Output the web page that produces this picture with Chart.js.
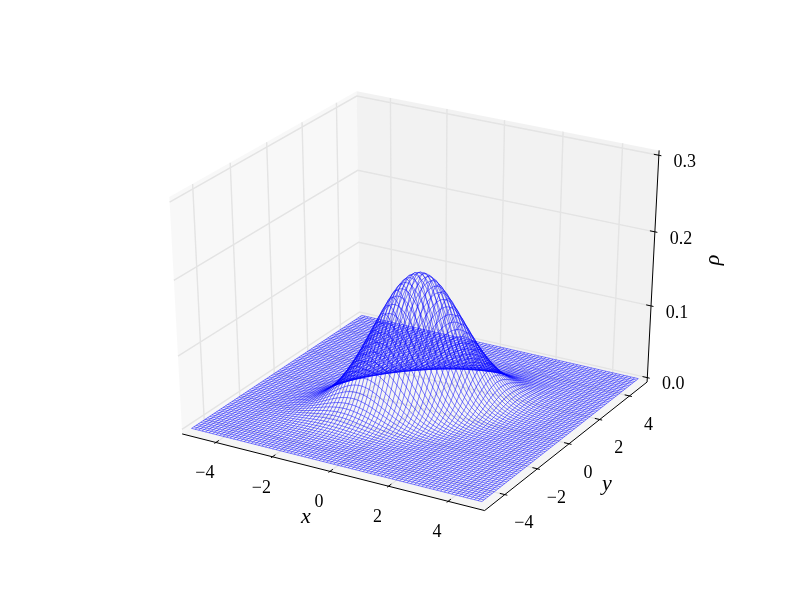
<!DOCTYPE html>
<html>
<head>
<meta charset="utf-8">
<script src="https://cdn.jsdelivr.net/npm/chart.js@4/dist/chart.umd.min.js"></script>
<style>body{margin:0;background:#fff}canvas{display:block}</style>
</head>
<body>
<canvas id="c" width="800" height="600"></canvas>
<script>
const xTicks = [-4, -2, 0, 2, 4];
const yTicks = [-4, -2, 0, 2, 4];
const zTicks = [0, 0.1, 0.2, 0.3];
const xLim = [-5, 5], yLim = [-5, 5], zLim = [0, 0.3];

const gridValues = [-5, -4.875, -4.75, -4.625, -4.5, -4.375, -4.25, -4.125, -4, -3.875, -3.75, -3.625, -3.5, -3.375, -3.25, -3.125, -3, -2.875, -2.75, -2.625,
  -2.5, -2.375, -2.25, -2.125, -2, -1.875, -1.75, -1.625, -1.5, -1.375, -1.25, -1.125, -1, -0.875, -0.75, -0.625, -0.5, -0.375, -0.25, -0.125, 0,
  0.125, 0.25, 0.375, 0.5, 0.625, 0.75, 0.875, 1, 1.125, 1.25, 1.375, 1.5, 1.625, 1.75, 1.875, 2, 2.125, 2.25, 2.375,
  2.5, 2.625, 2.75, 2.875, 3, 3.125, 3.25, 3.375, 3.5, 3.625, 3.75, 3.875, 4, 4.125, 4.25, 4.375, 4.5, 4.625, 4.75, 4.875, 5];

// the hump is an ellipse along x = y: grid nodes on the same ring (i*i - i*j + j*j, in steps from the peak) share a height
// pairs of [ring, rho in units of 0.0001]
const ringRho = [[0,1780],[1,1766],[3,1738],[4,1724],[7,1683],[9,1656],[12,1617],[13,1604],[16,1566],[19,1529],[21,1504],[25,1457],[27,1434],[28,1422],[31,1388],[36,1334],[37,1323],[39,1302],[43,1261],[48,1212],[49,1202],
  [52,1173],[57,1127],[61,1092],[63,1074],[64,1066],[67,1041],[73,992],[75,976],[76,968],[79,945],[81,930],[84,908],[91,858],[93,845],[97,818],[100,799],[103,780],[108,749],[109,743],[111,731],[112,726],
  [117,697],[121,675],[124,659],[127,643],[129,633],[133,613],[139,584],[144,561],[147,548],[148,544],[151,531],[156,510],[157,506],[163,482],[169,460],[171,452],[172,449],[175,438],[181,417],[183,411],
  [189,391],[192,382],[193,379],[196,370],[199,361],[201,356],[208,336],[211,328],[217,313],[219,308],[223,298],[225,293],[228,286],[229,284],[237,266],[241,258],[243,254],[244,252],[247,246],[252,236],
  [256,229],[259,223],[268,208],[271,203],[273,200],[277,193],[279,190],[283,184],[289,176],[291,173],[292,171],[300,161],[301,160],[304,156],[307,152],[309,150],[313,145],[316,142],[324,133],[325,132],
  [327,130],[331,125],[333,124],[336,121],[337,120],[343,114],[349,109],[351,107],[361,99],[363,97],[364,96],[367,94],[372,90],[373,90],[379,85],[381,84],[387,80],[388,79],[397,74],[399,73],[400,72],
  [403,70],[409,67],[412,66],[417,63],[421,61],[427,58],[432,56],[433,55],[436,54],[439,53],[441,52],[444,51],[448,49],[453,47],[457,46],[463,44],[468,42],[469,42],[471,41],[475,40],[481,38],[484,37],
  [487,36],[489,35],[496,33],[499,33],[507,31],[508,30],[511,30],[513,29],[516,28],[523,27],[525,26],[529,26],[532,25],[541,23],[543,23],[547,22],[549,22],[553,21],[556,21],[559,20],[567,19],[571,18],
  [576,18],[577,17],[579,17],[588,16],[589,16],[592,15],[597,15],[601,14],[603,14],[604,14],[607,14],[613,13],[619,12],[624,12],[625,12],[628,12],[631,11],[633,11],[637,11],[643,10],[651,10],[652,10],
  [657,9],[661,9],[669,8],[673,8],[675,8],[676,8],[679,8],[684,7],[687,7],[688,7],[691,7],[700,7],[703,6],[709,6],[711,6],[721,6],[723,5],[724,5],[727,5],[729,5],[732,5],[733,5],[739,5],[741,5],
  [751,4],[756,4],[757,4],[763,4],[768,4],[769,4],[772,4],[775,4],[777,4],[784,3],[787,3],[793,3],[796,3],[804,3]];
const peakIndex = 40;

const ringMap = new Map(ringRho);
function rhoAt(ix, iy) {
  const i = ix - peakIndex, j = iy - peakIndex;
  return (ringMap.get(i * i - i * j + j * j) || 0) / 10000;
}

// mplot3d default view: elev 30, azim -60, dist 10
const dist = 10, elev = 30 * Math.PI / 180, azim = -60 * Math.PI / 180;
const E = [0.5 + Math.cos(azim) * Math.cos(elev) * dist, 0.5 + Math.sin(azim) * Math.cos(elev) * dist, 0.5 + Math.sin(elev) * dist];
const nv = [Math.cos(azim) * Math.cos(elev), Math.sin(azim) * Math.cos(elev), Math.sin(elev)];
const cross = (a, b) => [a[1]*b[2]-a[2]*b[1], a[2]*b[0]-a[0]*b[2], a[0]*b[1]-a[1]*b[0]];
const dot = (a, b) => a[0]*b[0]+a[1]*b[1]+a[2]*b[2];
let uv = cross([0, 0, 1], nv);
const ul = Math.sqrt(dot(uv, uv));
uv = uv.map(v => v / ul);
const vv = cross(nv, uv);
function proj(x, y, z) {
  const p = [(x - xLim[0]) / (xLim[1] - xLim[0]) - E[0], (y - yLim[0]) / (yLim[1] - yLim[0]) - E[1], (z - zLim[0]) / (zLim[1] - zLim[0]) - E[2]];
  const w = -dot(nv, p);
  return { x: dot(uv, p) / w, y: dot(vv, p) / w };
}
const dx = 10 / 48, dy = 10 / 48, dz = 0.3 / 48;
const x0 = -5 - dx, x1 = 5 + dx, y0 = -5 - dy, y1 = 5 + dy, z0 = 0 - dz, z1 = 0.3 + dz;
const tx = 10 / 12, ty = 10 / 12;

function line(pts, color, width, order, fill) {
  return { data: pts.map(p => proj(p[0], p[1], p[2])), showLine: true, pointRadius: 0, borderColor: color, borderWidth: width, backgroundColor: fill || 'transparent', fill: fill ? 'shape' : false, order: order, tension: 0 };
}
const ds = [];
ds.push(line([[x0,y0,z0],[x0,y1,z0],[x0,y1,z1],[x0,y0,z1],[x0,y0,z0]], 'transparent', 0, 100, 'rgba(242,242,242,0.5)'));
ds.push(line([[x0,y1,z0],[x1,y1,z0],[x1,y1,z1],[x0,y1,z1],[x0,y1,z0]], 'transparent', 0, 100, 'rgba(230,230,230,0.5)'));
ds.push(line([[x0,y0,z0],[x1,y0,z0],[x1,y1,z0],[x0,y1,z0],[x0,y0,z0]], 'transparent', 0, 100, 'rgba(236,236,236,0.5)'));
const gc = '#e4e4e4';
xTicks.forEach(t => ds.push(line([[t,y0,z0],[t,y1,z0],[t,y1,z1]], gc, 1.4, 90)));
yTicks.forEach(t => ds.push(line([[x1,t,z0],[x0,t,z0],[x0,t,z1]], gc, 1.4, 90)));
zTicks.forEach(t => ds.push(line([[x0,y0,t],[x0,y1,t],[x1,y1,t]], gc, 1.4, 90)));
// wireframe
gridValues.forEach((g, i) => {
  ds.push(line(gridValues.map((h, j) => [g, h, rhoAt(i, j)]), 'rgba(0,0,255,1)', 0.5, 50));
  ds.push(line(gridValues.map((h, j) => [h, g, rhoAt(j, i)]), 'rgba(0,0,255,1)', 0.5, 50));
});
ds.push(line([[x0,y0,z0],[x1,y0,z0]], '#000', 1, 10));
ds.push(line([[x1,y0,z0],[x1,y1,z0]], '#000', 1, 10));
ds.push(line([[x1,y1,z0],[x1,y1,z1]], '#000', 1, 10));
xTicks.forEach(t => ds.push(line([[t,y0-tx*0.1,z0],[t,y0+tx*0.2,z0]], '#000', 1, 10)));
yTicks.forEach(t => ds.push(line([[x1+ty*0.1,t,z0],[x1-ty*0.2,t,z0]], '#000', 1, 10)));
zTicks.forEach(t => ds.push(line([[x1+tx*0.1,y1,t],[x1-tx*0.2,y1,t]], '#000', 1, 10)));

const labels = {
  id: 'labels',
  afterDraw(chart) {
    const c = chart.ctx, sx = chart.scales.x, sy = chart.scales.y;
    const put = (txt, px, py, font, rot) => {
      c.save(); c.translate(px, py); if (rot) c.rotate(rot);
      c.font = font; c.fillStyle = '#000'; c.textAlign = 'center'; c.textBaseline = 'middle';
      c.fillText(txt, 0, 0); c.restore();
    };
    const f = '18px "Liberation Serif"';
    const at = (x, y, z) => { const p = proj(x, y, z); return [sx.getPixelForValue(p.x), sy.getPixelForValue(p.y)]; };
    xTicks.forEach(t => { const p = at(t, y0, z0); put(String(t).replace('-', '\u2212'), p[0] - 11, p[1] + 31, f); });
    yTicks.forEach(t => { const p = at(x1, t, z0); put(String(t).replace('-', '\u2212'), p[0] + 19, p[1] + 29, f); });
    zTicks.forEach(t => { const p = at(x1, y1, t); put(t.toFixed(1), p[0] + 26, p[1] + 7, f); });
    put('x', 306, 517, 'italic 22px "Liberation Serif"');
    put('y', 607, 484, 'italic 22px "Liberation Serif"');
    put('\u03c1', 713, 260, 'italic 22px "Liberation Serif"', -Math.PI / 2);
  }
};
// whole canvas in projected coordinates (axes rect 100..720 x 60..540)
const kx = 0.185 / 620, ky = 0.185 / 480;
new Chart(document.getElementById('c').getContext('2d'), {
  type: 'scatter',
  data: { datasets: ds },
  options: {
    responsive: false, animation: false,
    layout: { padding: 0 },
    plugins: { legend: { display: false }, tooltip: { enabled: false } },
    scales: {
      x: { type: 'linear', display: false, min: -0.095 - 100 * kx, max: -0.095 + 700 * kx },
      y: { type: 'linear', display: false, min: -0.095 - 60 * ky, max: -0.095 + 540 * ky }
    }
  },
  plugins: [labels]
});
</script>
</body>
</html>
